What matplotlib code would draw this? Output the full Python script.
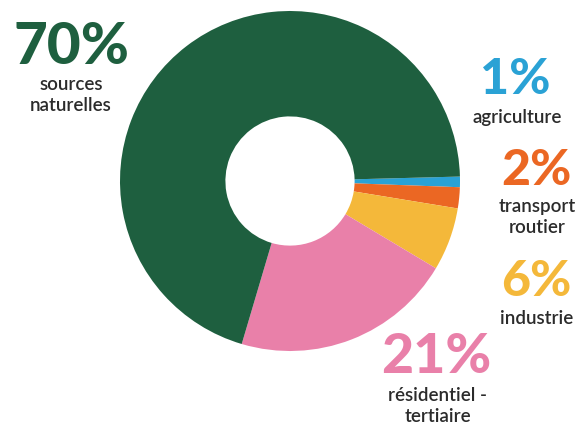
import matplotlib
matplotlib.use("Agg")
import matplotlib.pyplot as plt

categories = ["agriculture", "transport routier", "industrie", "résidentiel - tertiaire", "sources naturelles"]
values = [1, 2, 6, 21, 70]
colors = ["#2aa2d5", "#eb6723", "#f4b83a", "#e980a9", "#1e5f3f"]
pct_labels = ["1%", "2%", "6%", "21%", "70%"]
name_labels = ["agriculture", "transport\nroutier", "industrie", "résidentiel -\ntertiaire", "sources\nnaturelles"]

W, H = 582, 427
fig = plt.figure(figsize=(W / 100, H / 100), dpi=100)
ax = fig.add_axes([120 / W, (H - 352) / H, 340 / W, 340 / H])
ax.pie(values, colors=colors, startangle=1.5, counterclock=False,
       radius=1, wedgeprops=dict(width=0.62, linewidth=0))
ax.set_xlim(-1, 1)
ax.set_ylim(-1, 1)
ax.set_aspect("equal")
ax.axis("off")

# label positions (pixel coords): pct center, name center
pct_pos = [(515, 79), (536, 171), (536, 282), (436, 357), (71, 47)]
pct_size = [36, 36, 36, 40, 42]
name_pos = [(517, 118), (537, 217), (537, 318), (438, 406), (71, 95)]

def fx(x):
    return x / W

def fy(y):
    return 1 - y / H

for i in range(len(values)):
    px, py = pct_pos[i]
    fig.text(fx(px), fy(py), pct_labels[i], color=colors[i], fontsize=pct_size[i],
             fontweight="black", family=["Lato", "DejaVu Sans"], ha="center", va="center")
    nx, ny = name_pos[i]
    fig.text(fx(nx), fy(ny), name_labels[i], color="#2b2b2b", fontsize=13.5,
             fontweight="semibold", family=["Lato", "DejaVu Sans"], ha="center", va="center",
             linespacing=1.3)

fig.savefig("out.png", dpi=100)
